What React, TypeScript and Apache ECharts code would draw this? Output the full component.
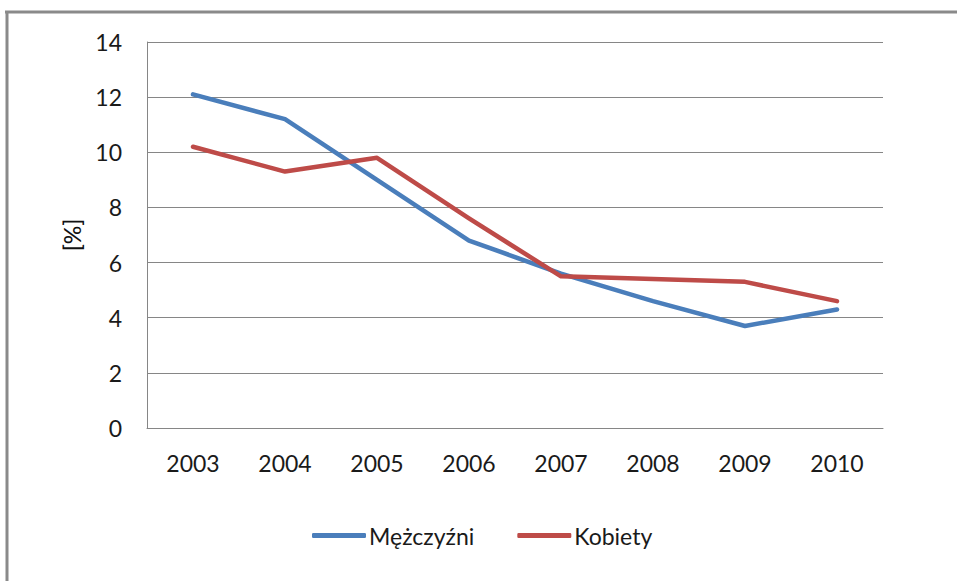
import React, { useEffect, useRef } from "react";
import * as echarts from "echarts";

const categories = ["2003", "2004", "2005", "2006", "2007", "2008", "2009", "2010"];
const men = [12.1, 11.2, 9.0, 6.8, 5.6, 4.6, 3.7, 4.3];
const women = [10.2, 9.3, 9.8, 7.6, 5.5, 5.4, 5.3, 4.6];
const seriesNames = ["Mężczyźni", "Kobiety"];
const yAxisName = "[%]";

const FONT = "Lato";
const FS = 23;

export default function App() {
  const ref = useRef<HTMLDivElement>(null);
  useEffect(() => {
    if (!ref.current) return;
    const chart = echarts.init(ref.current, null, { renderer: "svg" });
    chart.setOption({
      animation: false,
      backgroundColor: "#ffffff",
      textStyle: { fontFamily: FONT },
      graphic: [
        { type: "line", shape: { x1: 5, y1: 12, x2: 957, y2: 12 }, style: { stroke: "#8a8a8a", lineWidth: 3 } },
        { type: "line", shape: { x1: 7, y1: 11, x2: 7, y2: 581 }, style: { stroke: "#8a8a8a", lineWidth: 3 } },
      ],
      grid: { left: 147, top: 42, width: 736, height: 386, containLabel: false },
      legend: {
        left: 307,
        top: 519,
        icon: "roundRect",
        itemWidth: 54,
        itemHeight: 5,
        itemGap: 43,
        textStyle: { fontFamily: FONT, fontSize: FS, color: "#1a1a1a", padding: [0, 0, 0, -2] },
        data: seriesNames,
      },
      xAxis: {
        type: "category",
        data: categories,
        boundaryGap: true,
        axisLine: { lineStyle: { color: "#868686", width: 1 } },
        axisTick: { show: false },
        axisLabel: { fontFamily: FONT, fontSize: FS, color: "#1a1a1a", margin: 23 },
      },
      yAxis: {
        type: "value",
        min: 0,
        max: 14,
        interval: 2,
        name: yAxisName,
        nameLocation: "middle",
        nameGap: 64,
        nameRotate: 90,
        nameTextStyle: { fontFamily: FONT, fontSize: FS, color: "#111111", fontWeight: 500 },
        axisLine: { show: true, lineStyle: { color: "#868686", width: 1 } },
        axisTick: { show: false },
        axisLabel: { fontFamily: FONT, fontSize: FS, color: "#1a1a1a", margin: 25 },
        splitLine: { lineStyle: { color: "#868686", width: 1 } },
      },
      series: [
        {
          name: seriesNames[0],
          type: "line",
          data: men,
          symbol: "none",
          lineStyle: { color: "#4A7EBB", width: 4.5, cap: "round", join: "round" },
          itemStyle: { color: "#4A7EBB" },
        },
        {
          name: seriesNames[1],
          type: "line",
          data: women,
          symbol: "none",
          lineStyle: { color: "#BE4B48", width: 4.5, cap: "round", join: "round" },
          itemStyle: { color: "#BE4B48" },
        },
      ],
    });
    return () => chart.dispose();
  }, []);
  return (
    <div
      ref={ref}
      style={{ position: "fixed", left: 0, top: 0, width: 957, height: 581 }}
    />
  );
}
